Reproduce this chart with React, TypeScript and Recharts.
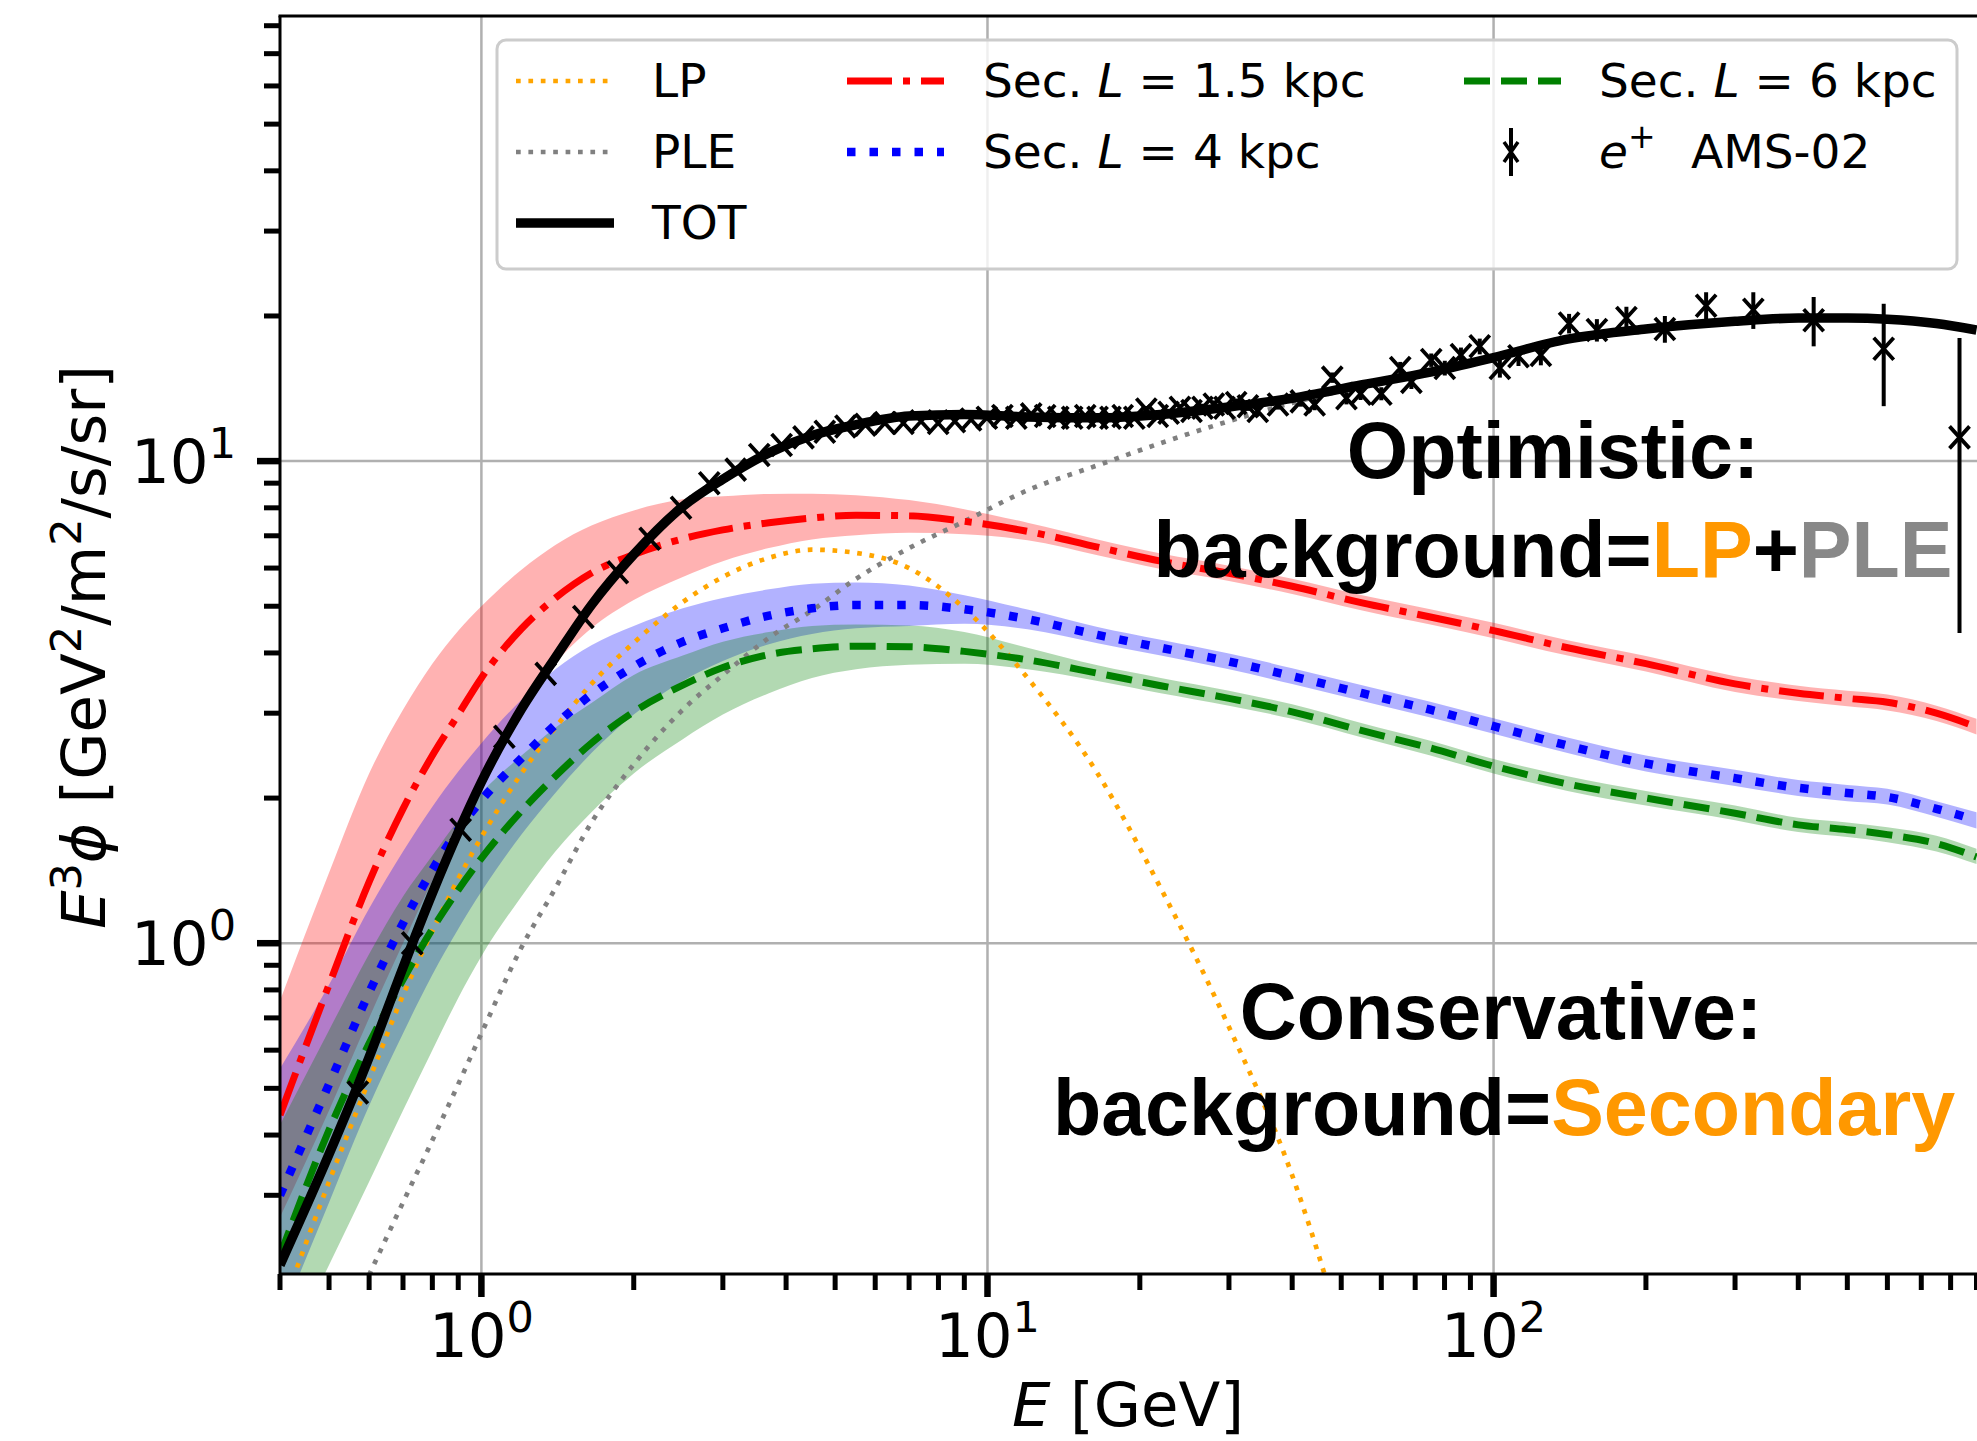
import React from "react";
import {
  ComposedChart,
  Line,
  Area,
  Scatter,
  ErrorBar,
  XAxis,
  YAxis,
  CartesianGrid,
} from "recharts";

// energy grid (GeV) used by the model curves
const energy = [0.4, 0.5, 0.6, 0.7, 0.8, 0.9, 1.0, 1.2, 1.4, 1.65, 2.0, 2.5, 3.0, 3.7, 4.5, 5.5, 7, 9, 12, 16.5, 22, 30, 40, 55, 75, 100, 140, 200, 300, 400, 500, 600, 750, 900];

const tot = [0.215, 0.365, 0.58, 0.89, 1.27, 1.7, 2.16, 3.06, 3.91, 5.03, 6.4, 8.05, 9.17, 10.4, 11.3, 11.9, 12.4, 12.5, 12.35, 12.3, 12.5, 12.95, 13.5, 14.4, 15.3, 16.4, 17.9, 18.8, 19.5, 19.8, 19.8, 19.7, 19.3, 18.7];
const lp = [0.17, 0.32, 0.52, 0.78, 1.06, 1.36, 1.66, 2.25, 2.8, 3.45, 4.2, 5.1, 5.75, 6.3, 6.55, 6.45, 6.0, 4.95, 3.55, 2.25, 1.3, 0.67, 0.33, 0.11, 0.03, 0.008, null, null, null, null, null, null, null, null];
const ple = [0.077, 0.135, 0.205, 0.29, 0.39, 0.51, 0.65, 0.98, 1.3, 1.78, 2.35, 3.05, 3.6, 4.3, 4.9, 5.7, 6.6, 7.5, 8.7, 9.8, 10.9, 12.1, 13.2, 14.3, 15.25, 16.35, 17.85, 18.75, 19.45, 19.75, 19.75, 19.65, 19.25, 18.65];

// secondary L = 1.5 kpc
const red = [0.44, 0.82, 1.34, 1.9, 2.45, 2.98, 3.55, 4.49, 5.2, 5.86, 6.4, 6.9, 7.2, 7.45, 7.62, 7.72, 7.7, 7.5, 7.15, 6.63, 6.2, 5.85, 5.5, 5.08, 4.75, 4.45, 4.1, 3.8, 3.45, 3.3, 3.22, 3.16, 3.0, 2.81];
const redHi = [0.76, 1.4, 2.25, 3.05, 3.8, 4.45, 5.0, 5.95, 6.7, 7.35, 7.9, 8.33, 8.45, 8.55, 8.56, 8.5, 8.3, 7.95, 7.45, 6.88, 6.43, 6.07, 5.7, 5.27, 4.93, 4.62, 4.25, 3.94, 3.58, 3.42, 3.34, 3.28, 3.11, 2.92];
const redLo = [0.27, 0.45, 0.7, 1.0, 1.35, 1.75, 2.2, 3.0, 3.8, 4.5, 5.15, 5.75, 6.2, 6.6, 6.88, 7.02, 7.1, 7.05, 6.85, 6.38, 5.97, 5.64, 5.3, 4.9, 4.58, 4.29, 3.95, 3.66, 3.32, 3.18, 3.1, 3.04, 2.89, 2.71];

// secondary L = 4 kpc
const blue = [0.3, 0.51, 0.79, 1.1, 1.42, 1.72, 1.98, 2.42, 2.84, 3.28, 3.75, 4.22, 4.5, 4.78, 4.95, 5.03, 5.03, 4.93, 4.7, 4.36, 4.1, 3.84, 3.58, 3.3, 3.05, 2.82, 2.57, 2.36, 2.2, 2.1, 2.05, 2.01, 1.9, 1.8];
const blueHi = [0.55, 0.82, 1.18, 1.55, 1.92, 2.27, 2.6, 3.2, 3.7, 4.15, 4.55, 4.95, 5.2, 5.42, 5.57, 5.6, 5.52, 5.27, 4.92, 4.53, 4.26, 3.99, 3.72, 3.43, 3.17, 2.93, 2.67, 2.45, 2.29, 2.18, 2.13, 2.09, 1.97, 1.87];
const blueLo = [0.164, 0.29, 0.46, 0.65, 0.86, 1.07, 1.28, 1.68, 2.05, 2.48, 2.98, 3.5, 3.85, 4.17, 4.38, 4.5, 4.55, 4.6, 4.48, 4.19, 3.95, 3.7, 3.45, 3.18, 2.94, 2.72, 2.48, 2.27, 2.12, 2.02, 1.97, 1.94, 1.83, 1.73];

// secondary L = 6 kpc
const green = [0.225, 0.41, 0.62, 0.84, 1.07, 1.29, 1.5, 1.88, 2.22, 2.6, 3.02, 3.43, 3.73, 3.97, 4.08, 4.13, 4.12, 4.03, 3.87, 3.63, 3.42, 3.22, 3.02, 2.76, 2.54, 2.33, 2.14, 2.0, 1.86, 1.76, 1.72, 1.68, 1.61, 1.51];
const greenHi = [0.42, 0.66, 0.95, 1.25, 1.52, 1.8, 2.05, 2.45, 2.8, 3.15, 3.6, 3.95, 4.22, 4.42, 4.55, 4.58, 4.56, 4.42, 4.1, 3.77, 3.55, 3.34, 3.13, 2.86, 2.63, 2.41, 2.22, 2.07, 1.93, 1.82, 1.78, 1.74, 1.67, 1.57];
const greenLo = [0.134, 0.215, 0.32, 0.45, 0.6, 0.77, 0.94, 1.25, 1.55, 1.87, 2.25, 2.65, 2.98, 3.3, 3.55, 3.7, 3.78, 3.8, 3.7, 3.5, 3.3, 3.11, 2.92, 2.67, 2.45, 2.25, 2.07, 1.93, 1.8, 1.7, 1.66, 1.62, 1.55, 1.46];

// e+ AMS-02
const amsE = [0.57, 0.73, 0.91, 1.11, 1.34, 1.59, 1.86, 2.15, 2.48, 2.82, 3.18, 3.54, 3.92, 4.33, 4.77, 5.24, 5.74, 6.27, 6.82, 7.39, 7.99, 8.62, 9.28, 9.97, 10.7, 11.4, 12.2, 13.0, 13.8, 14.7, 15.6, 16.5, 17.5, 18.5, 19.5, 20.6, 21.7, 22.8, 24.0, 25.3, 26.6, 28.0, 29.4, 31.0, 32.7, 34.2, 37.5, 41.6, 44.3, 48.0, 51.2, 54.6, 60.0, 65.4, 68.8, 75.3, 80.1, 86.2, 93.9, 102.9, 112, 124, 141, 160, 183, 218, 263, 326, 429, 590, 833];
const amsV = [0.49, 1.0, 1.72, 2.68, 3.62, 4.75, 5.88, 6.9, 8.0, 9.0, 9.6, 10.3, 10.8, 11.2, 11.5, 11.8, 11.9, 12.0, 12.0, 12.1, 12.0, 12.1, 12.2, 12.3, 12.4, 12.3, 12.5, 12.4, 12.3, 12.3, 12.4, 12.3, 12.3, 12.4, 12.3, 12.8, 12.4, 12.6, 12.9, 12.7, 12.9, 13.1, 12.9, 13.2, 13.0, 12.7, 13.1, 13.3, 13.1, 14.9, 13.5, 13.8, 13.8, 15.6, 14.6, 16.2, 15.6, 16.6, 17.3, 15.6, 16.5, 16.6, 19.3, 18.7, 19.8, 18.8, 21.0, 20.6, 19.6, 17.1, 11.2];
const amsErr = [0.01, 0.02, 0.03, 0.04, 0.05, 0.06, 0.07, 0.08, 0.09, 0.1, 0.1, 0.11, 0.11, 0.12, 0.12, 0.12, 0.12, 0.13, 0.13, 0.13, 0.13, 0.14, 0.14, 0.15, 0.15, 0.16, 0.16, 0.17, 0.17, 0.18, 0.18, 0.19, 0.19, 0.2, 0.2, 0.21, 0.22, 0.22, 0.23, 0.24, 0.25, 0.26, 0.27, 0.28, 0.29, 0.3, 0.31, 0.33, 0.35, 0.37, 0.39, 0.41, 0.43, 0.46, 0.49, 0.52, 0.55, 0.6, 0.65, 0.7, 0.75, 0.8, 0.9, 1.0, 1.1, 1.2, 1.4, 1.8, 2.3, 4.1, 6.8];

const xTicks = [0.4, 0.5, 0.6, 0.7, 0.8, 0.9, 1, 2, 3, 4, 5, 6, 7, 8, 9, 10, 20, 30, 40, 50, 60, 70, 80, 90, 100, 200, 300, 400, 500, 600, 700, 800, 900];
const yTicks = [0.3, 0.4, 0.5, 0.6, 0.7, 0.8, 0.9, 1, 2, 3, 4, 5, 6, 7, 8, 9, 10, 20, 30, 40, 50, 60, 70, 80];

const W = 1977;
const H = 1441;
const PLOT_LEFT = 280;
const PLOT_TOP = 16;
const PLOT_BOTTOM = 1274;
const FONT = "'DejaVu Sans', sans-serif";
const BOLD_FONT = "'Liberation Sans', Arial, sans-serif";
const LP_TEXT = "#ff9800";
const PLE_TEXT = "#888888";

const modelData = energy.map((e, i) => ({
  e,
  tot: tot[i],
  lp: lp[i],
  ple: ple[i],
  red: red[i],
  blue: blue[i],
  green: green[i],
  redBand: [redLo[i], redHi[i]],
  blueBand: [blueLo[i], blueHi[i]],
  greenBand: [greenLo[i], greenHi[i]],
}));

const amsData = amsE.map((e, i) => ({ e, v: amsV[i], err: amsErr[i] }));

const isMajor = (v: number) => {
  const l = Math.log10(v);
  return Math.abs(l - Math.round(l)) < 1e-9;
};

const XTick = (props: any) => {
  const { x, payload } = props;
  const major = isMajor(payload.value);
  return (
    <g>
      <line x1={x} x2={x} y1={PLOT_BOTTOM} y2={PLOT_BOTTOM + (major ? 23 : 16)} stroke="#000" strokeWidth={major ? 6.5 : 5} />
      {major && (
        <text x={x} y={1357} textAnchor="middle" fontSize={61} fontFamily={FONT} fill="#000">
          10<tspan dy={-25} fontSize={43}>{Math.round(Math.log10(payload.value))}</tspan>
        </text>
      )}
    </g>
  );
};

const YTick = (props: any) => {
  const { y, payload } = props;
  const major = isMajor(payload.value);
  return (
    <g>
      <line x1={PLOT_LEFT - (major ? 23 : 16)} x2={PLOT_LEFT} y1={y} y2={y} stroke="#000" strokeWidth={major ? 6.5 : 5} />
      {major && (
        <text x={236} y={y + 22} textAnchor="end" fontSize={61} fontFamily={FONT} fill="#000">
          10<tspan dy={-25} fontSize={43}>{Math.round(Math.log10(payload.value))}</tspan>
        </text>
      )}
    </g>
  );
};

const XMarker = (props: any) => {
  const { cx, cy } = props;
  if (cx == null || cy == null) return null;
  return (
    <path
      d={`M${cx - 10},${cy - 11}L${cx + 10},${cy + 11}M${cx - 10},${cy + 11}L${cx + 10},${cy - 11}`}
      stroke="#000"
      strokeWidth={3.8}
      fill="none"
    />
  );
};

const SecLabel = ({ x, y, val }: { x: number; y: number; val: string }) => (
  <text x={x} y={y} fontSize={47} fontFamily={FONT} fill="#000">
    Sec. <tspan fontStyle="italic">L</tspan> = {val} kpc
  </text>
);

const Overlay = () => (
  <svg width={W} height={H} style={{ position: "absolute", left: 0, top: 0, pointerEvents: "none" }}>
    {/* top spine */}
    <line x1={PLOT_LEFT - 1.5} x2={W} y1={PLOT_TOP} y2={PLOT_TOP} stroke="#000" strokeWidth={3} />

    {/* axis titles */}
    <text transform="translate(105,647) rotate(-90)" textAnchor="middle" fontSize={61} fontFamily={FONT} fill="#000">
      <tspan fontStyle="italic">E</tspan>
      <tspan dy={-24} fontSize={43}>3</tspan>
      <tspan dy={24} fontStyle="italic">ϕ</tspan>
      <tspan> [GeV</tspan>
      <tspan dy={-24} fontSize={43}>2</tspan>
      <tspan dy={24}>/m</tspan>
      <tspan dy={-24} fontSize={43}>2</tspan>
      <tspan dy={24}>/s/sr]</tspan>
    </text>
    <text x={1128} y={1426} textAnchor="middle" fontSize={61} fontFamily={FONT} fill="#000">
      <tspan fontStyle="italic">E</tspan> [GeV]
    </text>

    {/* annotations */}
    <g fontFamily={BOLD_FONT} fontWeight="bold" fontSize={79} textAnchor="middle" fill="#000">
      <text x={1553} y={478}>Optimistic:</text>
      <text x={1553} y={577}>
        background=<tspan fill={LP_TEXT}>LP</tspan>+<tspan fill={PLE_TEXT}>PLE</tspan>
      </text>
      <text x={1501} y={1039}>Conservative:</text>
      <text x={1504} y={1135}>
        background=<tspan fill={LP_TEXT}>Secondary</tspan>
      </text>
    </g>

    {/* legend */}
    <rect x={497} y={40} width={1460} height={229} rx={9} fill="#fff" fillOpacity={0.8} stroke="#cccccc" strokeWidth={3} />
    <line x1={516} x2={614} y1={81} y2={81} stroke="#ffa500" strokeWidth={4.7} strokeDasharray="4.7 7.7" />
    <text x={652} y={97} fontSize={47} fontFamily={FONT} fill="#000">LP</text>
    <line x1={516} x2={614} y1={152} y2={152} stroke="#808080" strokeWidth={4.7} strokeDasharray="4.7 7.7" />
    <text x={652} y={168} fontSize={47} fontFamily={FONT} fill="#000">PLE</text>
    <line x1={516} x2={614} y1={223} y2={223} stroke="#000" strokeWidth={9.5} />
    <text x={652} y={239} fontSize={47} fontFamily={FONT} fill="#000">TOT</text>

    <line x1={847} x2={944} y1={81} y2={81} stroke="#ff0000" strokeWidth={7} strokeDasharray="45 11 7 11" />
    <SecLabel x={983} y={97} val="1.5" />
    <line x1={847} x2={944} y1={152} y2={152} stroke="#0000ff" strokeWidth={8.5} strokeDasharray="8.5 14" />
    <SecLabel x={983} y={168} val="4" />

    <line x1={1464} x2={1561} y1={81} y2={81} stroke="#008000" strokeWidth={7} strokeDasharray="26 11" />
    <SecLabel x={1599} y={97} val="6" />
    <line x1={1511} x2={1511} y1={128} y2={176} stroke="#000" strokeWidth={4} />
    <path d="M1504,142L1518,162M1504,162L1518,142" stroke="#000" strokeWidth={3.5} fill="none" />
    <text x={1599} y={168} fontSize={47} fontFamily={FONT} fill="#000">
      <tspan fontStyle="italic">e</tspan>
      <tspan dy={-20} fontSize={33}>+</tspan>
    </text>
    <text x={1691} y={168} fontSize={47} fontFamily={FONT} fill="#000">AMS-02</text>
  </svg>
);

export default function App() {
  return (
    <div style={{ position: "absolute", left: 0, top: 0, width: W, height: H, background: "#fff", overflow: "hidden" }}>
      <ComposedChart width={W} height={H} data={modelData} margin={{ top: PLOT_TOP, right: 0, bottom: 0, left: 0 }}>
        <CartesianGrid horizontalValues={[1, 10]} verticalValues={[1, 10, 100]} stroke="#b0b0b0" strokeWidth={2.5} />
        <XAxis
          dataKey="e"
          type="number"
          scale="log"
          domain={[0.4, 902]}
          allowDataOverflow
          ticks={xTicks}
          interval={0}
          tick={<XTick />}
          tickLine={false}
          tickSize={0}
          tickMargin={0}
          height={H - PLOT_BOTTOM}
          axisLine={{ stroke: "#000", strokeWidth: 3 }}
        />
        <YAxis
          type="number"
          scale="log"
          domain={[0.206, 83.8]}
          allowDataOverflow
          ticks={yTicks}
          interval={0}
          tick={<YTick />}
          tickLine={false}
          tickSize={0}
          tickMargin={0}
          width={PLOT_LEFT}
          axisLine={{ stroke: "#000", strokeWidth: 3 }}
        />

        <Area dataKey="redBand" type="monotone" stroke="none" fill="#ff0000" fillOpacity={0.3} isAnimationActive={false} />
        <Area dataKey="blueBand" type="monotone" stroke="none" fill="#0000ff" fillOpacity={0.3} isAnimationActive={false} />
        <Area dataKey="greenBand" type="monotone" stroke="none" fill="#008000" fillOpacity={0.3} isAnimationActive={false} />

        <Line dataKey="lp" type="monotone" stroke="#ffa500" strokeWidth={4.7} strokeDasharray="4.7 7.7" dot={false} isAnimationActive={false} />
        <Line dataKey="ple" type="monotone" stroke="#808080" strokeWidth={4.7} strokeDasharray="4.7 7.7" dot={false} isAnimationActive={false} />
        <Line dataKey="red" type="monotone" stroke="#ff0000" strokeWidth={7} strokeDasharray="45 11 7 11" dot={false} isAnimationActive={false} />
        <Line dataKey="blue" type="monotone" stroke="#0000ff" strokeWidth={8.5} strokeDasharray="8.5 14" dot={false} isAnimationActive={false} />
        <Line dataKey="green" type="monotone" stroke="#008000" strokeWidth={7} strokeDasharray="26 11" dot={false} isAnimationActive={false} />
        <Line dataKey="tot" type="monotone" stroke="#000" strokeWidth={9.5} dot={false} isAnimationActive={false} />

        <Scatter data={amsData} dataKey="v" shape={<XMarker />} isAnimationActive={false}>
          <ErrorBar dataKey="err" direction="y" width={0} stroke="#000" strokeWidth={4} />
        </Scatter>
      </ComposedChart>
      <Overlay />
    </div>
  );
}
